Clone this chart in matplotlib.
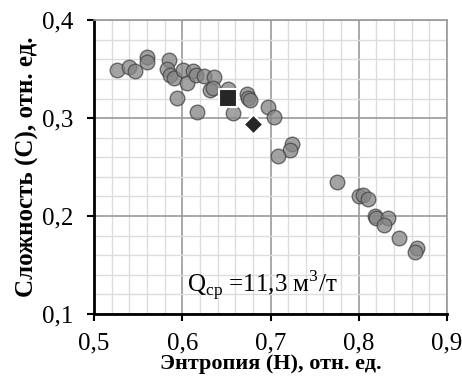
import matplotlib
matplotlib.use("Agg")
import matplotlib.pyplot as plt
from matplotlib.ticker import MultipleLocator, FuncFormatter

# энтропия H и сложность C для отдельных проб
entropy = [0.526, 0.540, 0.547, 0.560, 0.560, 0.585, 0.583, 0.586, 0.591, 0.594,
           0.601, 0.605, 0.612, 0.616, 0.625, 0.636, 0.632, 0.635, 0.617, 0.652,
           0.658, 0.673, 0.675, 0.677, 0.697, 0.704, 0.724, 0.722, 0.709, 0.775,
           0.800, 0.805, 0.811, 0.818, 0.820, 0.833, 0.829, 0.846, 0.866, 0.864]
complexity = [0.349, 0.352, 0.348, 0.362, 0.357, 0.359, 0.350, 0.344, 0.341, 0.321,
              0.349, 0.336, 0.348, 0.344, 0.343, 0.342, 0.329, 0.331, 0.306, 0.330,
              0.305, 0.325, 0.321, 0.318, 0.311, 0.301, 0.274, 0.267, 0.261, 0.235,
              0.220, 0.221, 0.217, 0.200, 0.198, 0.198, 0.191, 0.178, 0.167, 0.163]

# средние точки
mean_sq = (0.652, 0.321)
mean_dm = (0.680, 0.294)

x_ticks = [0.5, 0.6, 0.7, 0.8, 0.9]
y_ticks = [0.1, 0.2, 0.3, 0.4]

plt.rcParams["font.family"] = ["Liberation Serif", "DejaVu Serif"]
plt.rcParams["mathtext.fontset"] = "custom"
plt.rcParams["mathtext.rm"] = "Liberation Serif"

fig = plt.figure(figsize=(4.62, 3.80), dpi=100)
ax = fig.add_axes([0.2035, 0.1737, 0.764, 0.7733])

ax.scatter(entropy, complexity, s=110, c="#858585", alpha=0.75,
           edgecolors="#454545", linewidths=1.0, zorder=3)
ax.scatter([mean_sq[0]], [mean_sq[1]], marker="s", s=150, c="#262626",
           edgecolors="white", linewidths=1.5, zorder=4)
ax.scatter([mean_dm[0]], [mean_dm[1]], marker="D", s=100, c="#262626",
           edgecolors="white", linewidths=1.5, zorder=4)

ax.set_xlim(0.5, 0.9)
ax.set_ylim(0.1, 0.4)
ax.set_xticks(x_ticks)
ax.set_yticks(y_ticks)
ax.xaxis.set_minor_locator(MultipleLocator(0.02))
ax.yaxis.set_minor_locator(MultipleLocator(0.02))
fmt = FuncFormatter(lambda v, p: f"{v:.1f}".replace(".", ","))
ax.xaxis.set_major_formatter(fmt)
ax.yaxis.set_major_formatter(fmt)

ax.grid(which="major", color="#9a9a9a", lw=1.2, zorder=1)
ax.grid(which="minor", color="#dcdcdc", lw=1.0, zorder=0)
ax.set_axisbelow(True)
ax.tick_params(which="minor", length=0)
ax.tick_params(which="major", direction="out", length=5, width=1.5, labelsize=18)
ax.tick_params(axis="x", pad=8)
ax.tick_params(axis="y", pad=10)

for side in ("top", "right"):
    ax.spines[side].set_color("#9a9a9a")
    ax.spines[side].set_linewidth(1.2)
for side in ("left", "bottom"):
    ax.spines[side].set_color("black")
    ax.spines[side].set_linewidth(2)

ax.set_xlabel("Энтропия (H), отн. ед.", fontsize=16, fontweight="bold", labelpad=0)
ax.set_ylabel("Сложность (C), отн. ед.", fontsize=18, fontweight="bold", labelpad=2)

ax.text(0.605, 0.122, r"Q$_\mathrm{ср}$ =11,3 м$^3$/т", fontsize=18,
        ha="left", va="baseline", zorder=5)

fig.savefig("out.png", dpi=100)
